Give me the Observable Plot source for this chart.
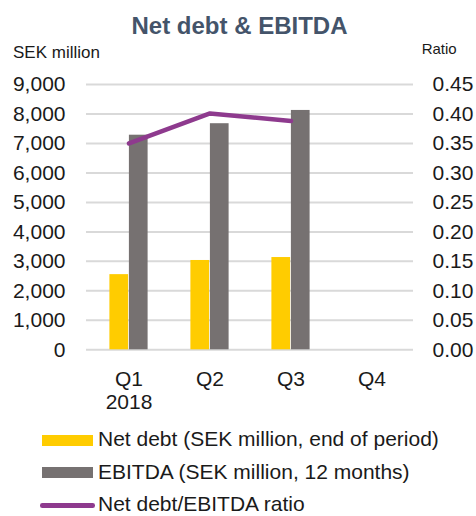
<!DOCTYPE html>
<html><head><meta charset="utf-8">
<script src="https://cdn.jsdelivr.net/npm/d3@7"></script>
<script src="https://cdn.jsdelivr.net/npm/@observablehq/plot@0.6"></script>
<style>
body{margin:0;background:#fff;font-family:"Liberation Sans",Arial,sans-serif;}
#wrap{position:relative;width:476px;height:516px;overflow:hidden;background:#fff}
#wrap svg{position:absolute;left:0;top:0}
.t{position:absolute;white-space:nowrap;line-height:1;color:#1a1a1a}
.sw{position:absolute}
</style></head><body><div id="wrap"></div>
<script>
const quarters = ["Q1", "Q2", "Q3", "Q4"];
const quarterLabels = ["Q1\n2018", "Q2", "Q3", "Q4"];
const netDebt = [2550, 3030, 3130, null];
const ebitda = [7280, 7670, 8120, null];
const ratio = [0.350, 0.401, 0.388, null];
const leftTicks = [0, 1000, 2000, 3000, 4000, 5000, 6000, 7000, 8000, 9000];
const ratioTicks = [0, 0.05, 0.10, 0.15, 0.20, 0.25, 0.30, 0.35, 0.40, 0.45];
const seriesNames = ["Net debt (SEK million, end of period)", "EBITDA (SEK million, 12 months)", "Net debt/EBITDA ratio"];
const colors = ["#FFCC00", "#767171", "#8E3A8E"];

const factor = 9000 / 0.45;
const netData = quarters.map((q, i) => ({q, v: netDebt[i]})).filter(d => d.v != null);
const ebitdaData = quarters.map((q, i) => ({q, v: ebitda[i]})).filter(d => d.v != null);
const ratioData = quarters.map((q, i) => ({q, r: ratio[i]})).filter(d => d.r != null);

const plot = Plot.plot({
  width: 476,
  height: 420,
  marginTop: 84,
  marginBottom: 70.7,
  marginLeft: 86,
  marginRight: 63,
  style: {fontSize: "21px", fontFamily: "'Liberation Sans', Arial, sans-serif", color: "#1a1a1a", background: "transparent"},
  x: {domain: quarters, padding: 0, label: null},
  y: {domain: [0, 9000], label: null},
  marks: [
    Plot.gridY(leftTicks, {stroke: "#d9d9d9", strokeOpacity: 1, strokeWidth: 2}),
    Plot.barY(netData, {x: "q", y: "v", fill: colors[0], insetLeft: 21.4, insetRight: 40.9}),
    Plot.barY(ebitdaData, {x: "q", y: "v", fill: colors[1], insetLeft: 40.9, insetRight: 21.4}),
    Plot.line(ratioData, {x: "q", y: d => d.r * factor, stroke: colors[2], strokeWidth: 4.5, strokeLinecap: "round", strokeLinejoin: "round"}),
    Plot.axisY(leftTicks, {anchor: "left", tickFormat: d3.format(","), tickSize: 0, tickPadding: 21, label: null}),
    Plot.axisY(ratioTicks.map(r => r * factor), {anchor: "right", tickFormat: d => (d / factor).toFixed(2), tickSize: 0, tickPadding: 19, textAnchor: "start", label: null}),
    Plot.axisX({tickFormat: d => quarterLabels[quarters.indexOf(d)], tickSize: 0, tickPadding: 19, lineHeight: 1.13, label: null})
  ]
});
const wrap = document.getElementById("wrap");
wrap.appendChild(plot);

function addText(txt, left, top, size, extra) {
  const d = document.createElement("div");
  d.className = "t";
  d.textContent = txt;
  d.style.left = left + "px";
  d.style.top = top + "px";
  d.style.fontSize = size + "px";
  if (extra) Object.assign(d.style, extra);
  wrap.appendChild(d);
  return d;
}
function addSwatch(left, top, w, h, color, radius) {
  const d = document.createElement("div");
  d.className = "sw";
  Object.assign(d.style, {left: left + "px", top: top + "px", width: w + "px", height: h + "px", background: color, borderRadius: (radius || 0) + "px"});
  wrap.appendChild(d);
}
// title
addText("Net debt & EBITDA", 0, 13.7, 24, {width: "479px", textAlign: "center", fontWeight: "bold", color: "#44546A"});
addText("SEK million", 13, 43.6, 17);
addText("Ratio", 421.7, 41.3, 15);
// legend
addSwatch(42, 435, 51, 10.5, colors[0]);
addText(seriesNames[0], 98, 428.2, 21);
addSwatch(42, 467.3, 51, 10.5, colors[1]);
addText(seriesNames[1], 98, 460.5, 21);
addSwatch(40, 503.3, 55, 4.6, colors[2], 2.3);
addText(seriesNames[2], 98, 493.2, 21);
</script>
</body></html>
